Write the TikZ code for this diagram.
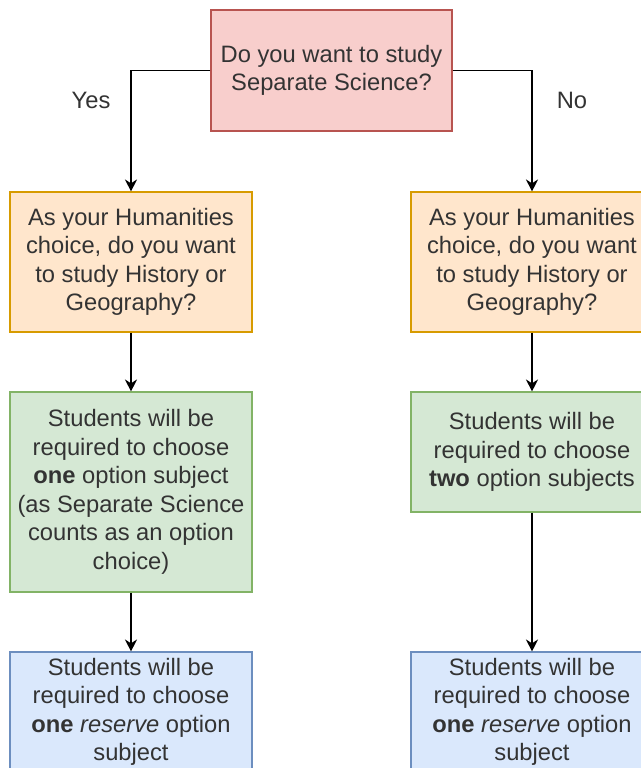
\documentclass[tikz,border=0pt]{standalone}
\usepackage{fontspec}
\setmainfont{Liberation Sans}
\usetikzlibrary{arrows.meta}
\definecolor{txt}{HTML}{333333}
\definecolor{redF}{HTML}{F8CECC}\definecolor{redD}{HTML}{B85450}
\definecolor{orgF}{HTML}{FFE6CC}\definecolor{orgD}{HTML}{D79B00}
\definecolor{grnF}{HTML}{D5E8D4}\definecolor{grnD}{HTML}{82B366}
\definecolor{bluF}{HTML}{DAE8FC}\definecolor{bluD}{HTML}{6C8EBF}
\tikzset{
  box/.style={draw, line width=0.8pt, align=center, inner sep=0pt, text=txt,
    font=\fontsize{17.8}{21.4}\selectfont, minimum width=181.5pt},
  qbox/.style={box, fill=redF, draw=redD},
  hbox/.style={box, fill=orgF, draw=orgD, minimum height=105pt},
  gbox/.style={box, fill=grnF, draw=grnD},
  bbox/.style={box, fill=bluF, draw=bluD, minimum height=90pt},
  lbl/.style={text=txt, font=\fontsize{17.8}{21.4}\selectfont, inner sep=0pt},
  conn/.style={draw=black, line width=1.1pt, -{Stealth[length=9pt,width=9pt]}}
}
\begin{document}
\begin{tikzpicture}[x=0.75pt,y=-0.75pt]
\useasboundingbox (0,0) rectangle (641,768);
\fill[white] (0,0) rectangle (641,768);
\clip (0,0) rectangle (641,768);
\node[qbox, minimum width=180.75pt, minimum height=90.75pt] (q) at (331.5,70.5) {Do you want to study\\Separate Science?};
\node[hbox] (hL) at (131,262) {As your Humanities\\choice, do you want\\to study History or\\Geography?};
\node[hbox] (hR) at (532,262) {As your Humanities\\choice, do you want\\to study History or\\Geography?};
\node[gbox, minimum height=150pt] (gL) at (131,492) {Students will be\\required to choose\\\textbf{one} option subject\\(as Separate Science\\counts as an option\\choice)};
\node[gbox, minimum height=90pt] (gR) at (532,452) {Students will be\\required to choose\\\textbf{two} option subjects};
\node[bbox] (bL) at (131,712) {Students will be\\required to choose\\\textbf{one} \textit{reserve} option\\subject};
\node[bbox] (bR) at (532,712) {Students will be\\required to choose\\\textbf{one} \textit{reserve} option\\subject};
\node[lbl] (yes) at (91,100) {Yes};
\node[lbl] (no) at (572,100) {No};
\draw[conn] (q.west) -| (hL.north);
\draw[conn] (q.east) -| (hR.north);
\draw[conn] (hL) -- (gL);
\draw[conn] (gL) -- (bL);
\draw[conn] (hR) -- (gR);
\draw[conn] (gR) -- (bR);
\end{tikzpicture}
\end{document}
